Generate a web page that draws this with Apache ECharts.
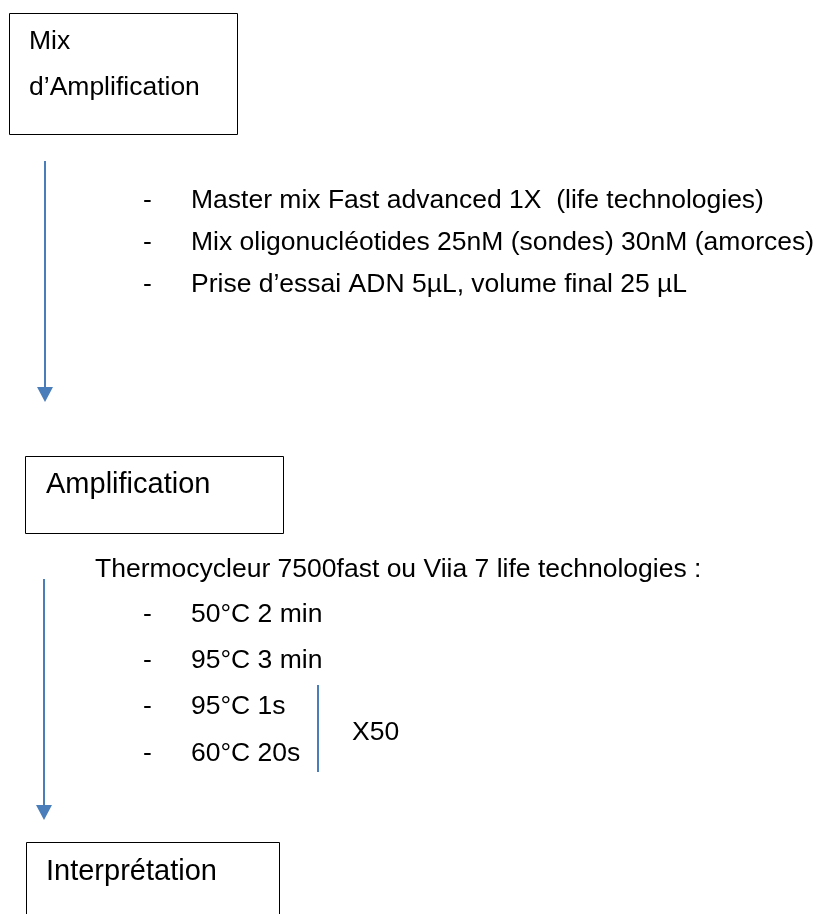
<!DOCTYPE html>
<html><head><meta charset="utf-8">
<script src="https://cdn.jsdelivr.net/npm/echarts@6/dist/echarts.min.js"></script>
<style>html,body{margin:0;padding:0;background:#fff}#c{width:822px;height:914px}</style>
</head><body><div id="c"></div>
<script>
// ---- content ----
const boxTitles = [["Mix", "d’Amplification"], ["Amplification"], ["Interprétation"]];
const mixItems = ["Master mix Fast advanced 1X  (life technologies)", "Mix oligonucléotides 25nM (sondes) 30nM (amorces)", "Prise d’essai ADN 5µL, volume final 25 µL"];
const instrumentLine = "Thermocycleur 7500fast ou Viia 7 life technologies :";
const cycleSteps = ["50°C 2 min", "95°C 3 min", "95°C 1s", "60°C 20s"];
const repeatLabel = "X50";
const bulletMark = "-";

// ---- layout / style ----
const FONT = '"Liberation Sans", Arial, sans-serif';
const BLUE = '#4a7ebb';
const els = [];
const DY = 1.5;
function txt(s, x, baseline, size) {
  els.push({type: 'text', style: {text: s, x: x, y: baseline + DY - 0.3465 * size, fill: '#000',
    font: size + 'px ' + FONT, verticalAlign: 'middle', align: 'left'}});
}
function box(x, y, w, h) {
  els.push({type: 'rect', shape: {x: x + 0.5, y: y + 0.5, width: w, height: h},
    style: {fill: 'none', stroke: '#000', lineWidth: 1}});
}
function arrow(x, y1, tip) {
  els.push({type: 'line', shape: {x1: x, y1: y1, x2: x, y2: tip - 14}, style: {stroke: BLUE, lineWidth: 2}});
  els.push({type: 'polygon', shape: {points: [[x - 8, tip - 15], [x + 8, tip - 15], [x, tip]]}, style: {fill: BLUE}});
}
const BODY = 26.5, TITLE = 29;

// box 1
box(9, 13, 228, 121);
txt(boxTitles[0][0], 29, 49, BODY);
txt(boxTitles[0][1], 29, 95, BODY);
arrow(45, 161, 402);
mixItems.forEach((s, i) => {
  const b = 208 + i * 42;
  txt(bulletMark, 143, b, BODY);
  txt(s, 191, b, BODY);
});
// box 2
box(25, 456, 258, 77);
txt(boxTitles[1][0], 46, 494, TITLE);
txt(instrumentLine, 95, 577, BODY);
arrow(44, 579, 820);
const stepBase = [622, 668, 714, 761];
cycleSteps.forEach((s, i) => {
  txt(bulletMark, 143, stepBase[i], BODY);
  txt(s, 191, stepBase[i], BODY);
});
els.push({type: 'line', shape: {x1: 318, y1: 685, x2: 318, y2: 772}, style: {stroke: BLUE, lineWidth: 2}});
txt(repeatLabel, 352, 740, BODY);
// box 3
box(26, 842, 253, 100);
txt(boxTitles[2][0], 46, 881, TITLE);

const chart = echarts.init(document.getElementById('c'), null, {renderer: 'canvas'});
chart.setOption({backgroundColor: '#fff', animation: false, graphic: {elements: els}});
</script></body></html>
